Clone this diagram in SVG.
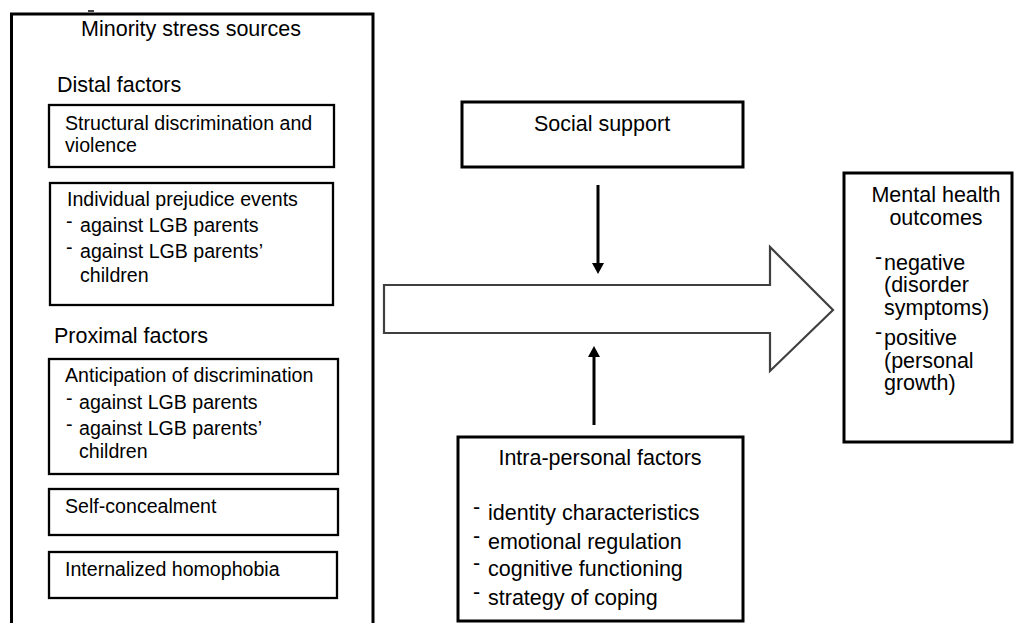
<svg xmlns="http://www.w3.org/2000/svg" width="1014" height="623" viewBox="0 0 1014 623">
<style>
text{font-family:"Liberation Sans",Arial,sans-serif;fill:#000}
.h{font-size:21.5px}
.b{font-size:19.6px}
.c{text-anchor:middle}
.box{fill:#fff;stroke:#000;stroke-width:3}
.ibox{fill:#fff;stroke:#000;stroke-width:2.3}
.con{stroke:#000;stroke-width:3;fill:none}
</style>
<defs>
<marker id="ah" markerUnits="userSpaceOnUse" markerWidth="11" markerHeight="12" refX="3" refY="6" orient="auto">
<path d="M0,0 L11,6 L0,12 z" fill="#000"/>
</marker>
</defs>
<rect width="1014" height="623" fill="#fff"/>

<g id="minority-stress-sources">
<rect class="box" x="11.5" y="14" width="361.5" height="630"/>
<line x1="88" y1="11" x2="94" y2="11" stroke="#000" stroke-width="1.5"/>
<text class="h c" x="191" y="36">Minority stress sources</text>
<text class="h" x="57" y="92">Distal factors</text>
<text class="h" x="54" y="343">Proximal factors</text>
</g>

<g id="structural">
<rect class="ibox" x="49" y="105" width="285" height="62"/>
<text class="b" x="65" y="130">Structural discrimination and</text>
<text class="b" x="65" y="152">violence</text>
</g>

<g id="individual-prejudice">
<rect class="ibox" x="50" y="183" width="283" height="122"/>
<text class="b" x="67" y="206">Individual prejudice events</text>
<text class="b" x="66" y="228">-</text>
<text class="b" x="80" y="232">against LGB parents</text>
<text class="b" x="66" y="254">-</text>
<text class="b" x="80" y="258">against LGB parents’</text>
<text class="b" x="80" y="282">children</text>
</g>

<g id="anticipation">
<rect class="ibox" x="49" y="359" width="289" height="115"/>
<text class="b" x="65" y="382">Anticipation of discrimination</text>
<text class="b" x="66" y="405">-</text>
<text class="b" x="79" y="409">against LGB parents</text>
<text class="b" x="66" y="431">-</text>
<text class="b" x="79" y="435">against LGB parents’</text>
<text class="b" x="79" y="458">children</text>
</g>

<g id="self-concealment">
<rect class="ibox" x="49" y="489" width="289" height="46"/>
<text class="b" x="65" y="513">Self-concealment</text>
</g>

<g id="internalized-homophobia">
<rect class="ibox" x="49" y="552" width="288" height="46"/>
<text class="b" x="65" y="576">Internalized homophobia</text>
</g>

<g id="social-support">
<rect class="box" x="462" y="102" width="281" height="65"/>
<text class="h c" x="602" y="131">Social support</text>
</g>

<g id="intra-personal">
<rect class="box" x="458" y="437" width="285" height="184"/>
<text class="h c" x="600" y="465">Intra-personal factors</text>
<text class="h" x="473" y="514">-</text>
<text class="h" x="488" y="520">identity characteristics</text>
<text class="h" x="473" y="543">-</text>
<text class="h" x="488" y="549">emotional regulation</text>
<text class="h" x="473" y="570">-</text>
<text class="h" x="488" y="576">cognitive functioning</text>
<text class="h" x="473" y="599">-</text>
<text class="h" x="488" y="605">strategy of coping</text>
</g>

<g id="mental-health">
<rect class="box" x="844" y="173" width="168" height="269"/>
<text class="h c" x="936" y="202">Mental health</text>
<text class="h c" x="936" y="225">outcomes</text>
<text class="h" x="875" y="264">-</text>
<text class="h" x="884" y="270">negative</text>
<text class="h" x="884" y="292">(disorder</text>
<text class="h" x="884" y="315">symptoms)</text>
<text class="h" x="875" y="339">-</text>
<text class="h" x="884" y="345">positive</text>
<text class="h" x="884" y="368">(personal</text>
<text class="h" x="884" y="390">growth)</text>
</g>

<g id="connectors">
<path d="M384,285 H770 V247 L833,310 L770,371 V333 H384 Z" fill="#fff" stroke="#404040" stroke-width="2.2" stroke-linejoin="miter"/>
<line class="con" x1="598" y1="185" x2="598" y2="266" marker-end="url(#ah)"/>
<line class="con" x1="594" y1="425" x2="594" y2="354" marker-end="url(#ah)"/>
</g>
</svg>
